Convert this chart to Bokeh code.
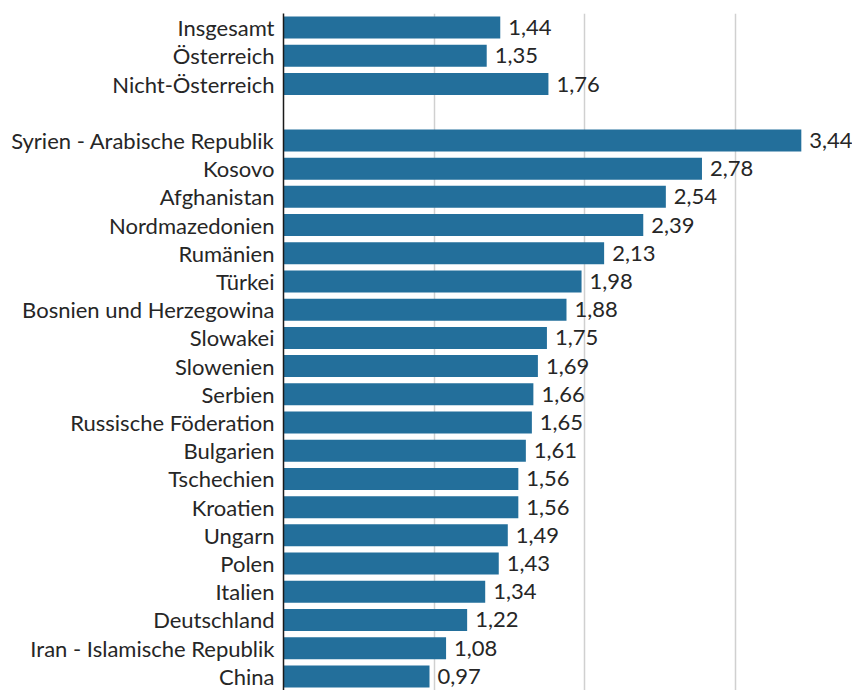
from bokeh.plotting import figure
from bokeh.models import ColumnDataSource, FactorRange, Range1d, FixedTicker, LabelSet
from bokeh.core.properties import value
from bokeh.embed import file_html
from bokeh.resources import INLINE

summary = ["Insgesamt", "Österreich", "Nicht-Österreich"]
summary_values = [1.44, 1.35, 1.76]
countries = ["Syrien - Arabische Republik", "Kosovo", "Afghanistan", "Nordmazedonien",
             "Rumänien", "Türkei", "Bosnien und Herzegowina", "Slowakei", "Slowenien",
             "Serbien", "Russische Föderation", "Bulgarien", "Tschechien", "Kroatien",
             "Ungarn", "Polen", "Italien", "Deutschland", "Iran - Islamische Republik", "China"]
country_values = [3.44, 2.78, 2.54, 2.39, 2.13, 1.98, 1.88, 1.75, 1.69, 1.66, 1.65,
                  1.61, 1.56, 1.56, 1.49, 1.43, 1.34, 1.22, 1.08, 0.97]
grid_ticks = [1, 2, 3]

spacer = " "
factors = summary + [spacer] + countries
names = summary + countries
vals = summary_values + country_values
labels = [f"{v:.2f}".replace(".", ",") for v in vals]

src = ColumnDataSource(data=dict(name=names, val=vals, lab=labels))

FONT = "Lato"
TXT = "#262626"
BAR = "#236f9b"

p = figure(y_range=FactorRange(factors=list(reversed(factors)), range_padding=0),
           x_range=Range1d(0, 3.78),
           width=852, height=690, output_backend="svg", toolbar_location=None,
           min_border_left=283, min_border_right=0, min_border_top=13, min_border_bottom=0)

p.hbar(y="name", right="val", height=0.78, left=0, source=src, color=BAR, line_color=None)

lbl = LabelSet(x="val", y="name", text="lab", source=src, x_offset=8, y_offset=0,
               text_font=value(FONT), text_font_size="22px", text_color=TXT,
               text_baseline="middle", text_align="left")
p.add_layout(lbl)

p.outline_line_color = None
p.xaxis.visible = False
p.ygrid.grid_line_color = None
p.xgrid.ticker = FixedTicker(ticks=grid_ticks)
p.xgrid.grid_line_color = "#d0d0d0"
p.xgrid.grid_line_width = 1.5

ya = p.yaxis[0]
ya.axis_line_color = "#1a1a1a"
ya.axis_line_width = 1.5
ya.major_tick_line_color = None
ya.minor_tick_line_color = None
ya.major_label_standoff = 3
ya.major_label_text_font = FONT
ya.major_label_text_font_size = "22px"
ya.major_label_text_color = TXT
ya.major_label_text_font_style = "normal"

open("out.html", "w").write(file_html(p, INLINE))
